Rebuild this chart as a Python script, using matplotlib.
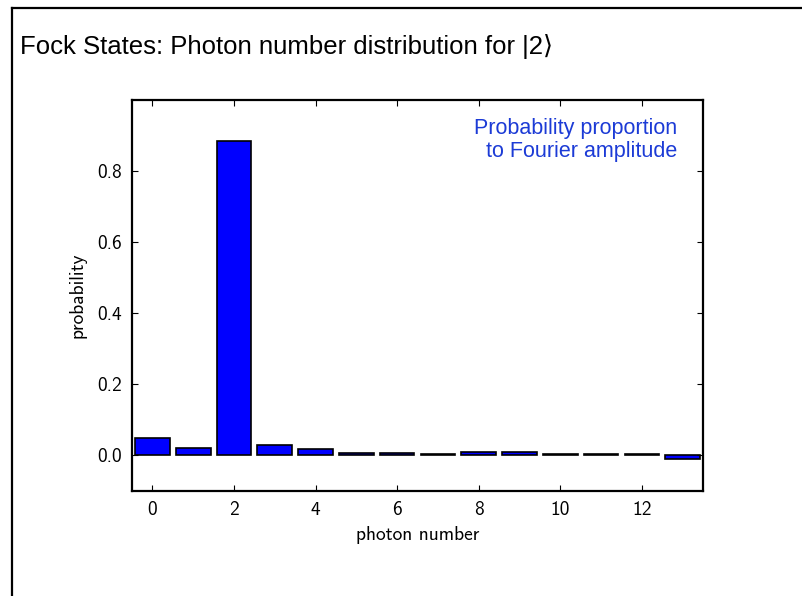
import numpy as np
import matplotlib
matplotlib.use('Agg')
import matplotlib.pyplot as plt
from matplotlib.lines import Line2D

# Photon number distribution
photon_number = np.arange(0, 14)
probability = [0.049, 0.021, 0.886, 0.028, 0.017, 0.008, 0.008,
               0.003, 0.009, 0.011, 0.003, 0.003, 0.003, -0.009]
xticks = [0, 2, 4, 6, 8, 10, 12]
yticks = [0.0, 0.2, 0.4, 0.6, 0.8]

title = 'Fock States: Photon number distribution for |2\u27e9'
note = 'Probability proportion\nto Fourier amplitude'

# fallback list so the closing bracket has a glyph
slide_font = ['Liberation Sans', 'DejaVu Sans', 'Noto Sans CJK SC']

fig = plt.figure(figsize=(8.03, 5.96), dpi=100)
fig.patch.set_facecolor('white')

# Slide frame (left and top edges only)
fig.add_artist(Line2D([0.0145, 0.0145], [0.0, 0.987], color='k', lw=1.6,
                      transform=fig.transFigure))
fig.add_artist(Line2D([0.0145, 1.0], [0.987, 0.987], color='k', lw=1.6,
                      transform=fig.transFigure))

fig.text(0.025, 0.922, title, family=slide_font, fontsize=18.5,
         ha='left', va='center')

ax = fig.add_axes([0.1644, 0.1762, 0.7111, 0.656])
ax.bar(photon_number, probability, width=0.85, color='#0000ff',
       edgecolor='k', linewidth=1.2)

ax.set_xlim(-0.5, 13.5)
ax.set_ylim(-0.1, 1.0)
ax.set_xticks(xticks)
ax.set_yticks(yticks)
ax.set_xticklabels([str(t) for t in xticks])
ax.set_yticklabels(['%.1f' % t for t in yticks])

# CM sans look of the original plot
for lab in ax.get_xticklabels() + ax.get_yticklabels():
    lab.set_family('cmss10')
    lab.set_fontsize(14)
ax.set_xlabel('photon number', family='cmss10', fontsize=14, labelpad=5)
ax.set_ylabel('probability', family='cmss10', fontsize=14, labelpad=8)

ax.tick_params(direction='in', length=4, width=0.8, top=True, right=True,
               pad=7)
for sp in ax.spines.values():
    sp.set_linewidth(1.6)

ax.text(0.954, 0.955, note, transform=ax.transAxes, ha='right', va='top',
        color='#1c3bd6', family=slide_font, fontsize=15.5,
        linespacing=1.15)

plt.savefig('out.png', dpi=100)
plt.close()
